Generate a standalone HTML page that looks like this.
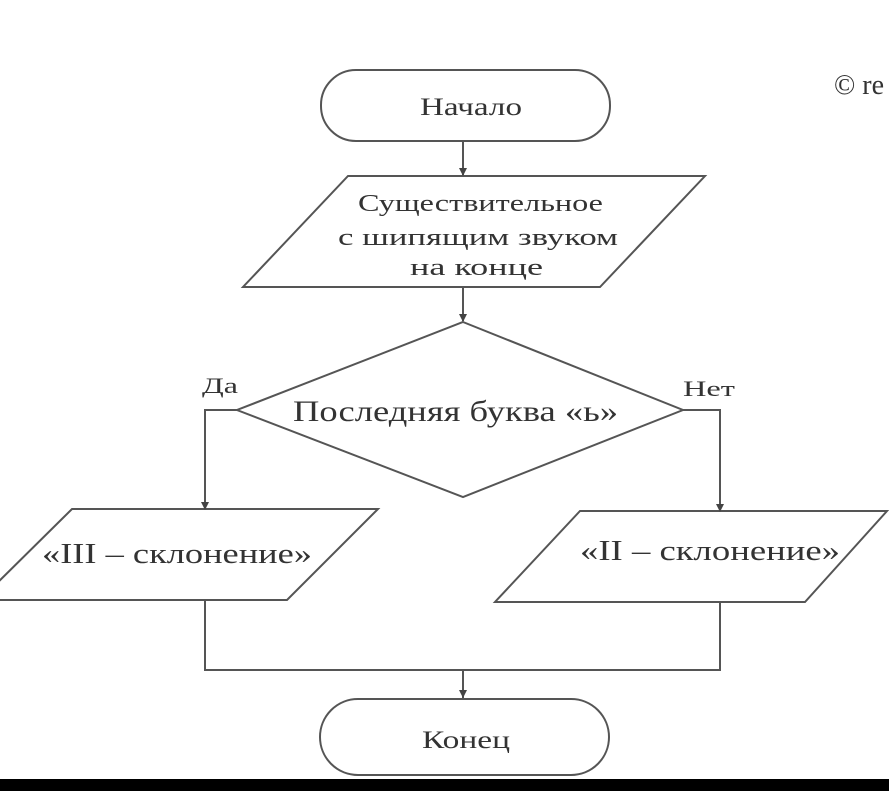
<!DOCTYPE html>
<html><head><meta charset="utf-8"><style>
html,body{margin:0;padding:0;background:#fff;}
svg{display:block;}
text{font-family:"Liberation Serif","DejaVu Serif",serif;fill:#333;}
</style></head><body>
<svg width="889" height="791" viewBox="0 0 889 791" xmlns="http://www.w3.org/2000/svg">
<g fill="none" stroke="#555" stroke-width="2">
<rect x="321" y="70" width="289" height="71" rx="35" ry="35"/>
<line x1="463" y1="141" x2="463" y2="175"/>
<polygon points="348,176 705,176 600,287 243,287"/>
<line x1="463" y1="287" x2="463" y2="321"/>
<polygon points="463,322 683,410 463,497 237,410"/>
<polyline points="237,410 205,410 205,510"/>
<polyline points="683,410 720,410 720,512"/>
<polygon points="72,509 378,509 287,600 -20,600"/>
<polygon points="580,511 887,511 805,602 495,602"/>
<polyline points="205,600 205,670 720,670 720,602"/>
<line x1="463" y1="670" x2="463" y2="698"/>
<rect x="320" y="699" width="289" height="76" rx="38" ry="38"/>
</g>
<g fill="#444">
<polygon points="459,168 467,168 463,176"/>
<polygon points="459,314 467,314 463,322"/>
<polygon points="201,502 209,502 205,510"/>
<polygon points="716,504 724,504 720,512"/>
<polygon points="459,690 467,690 463,698"/>
</g>
<rect x="0" y="779" width="889" height="12" fill="#000"/>
<text x="420" y="115" font-size="25" textLength="102" lengthAdjust="spacingAndGlyphs">Начало</text>
<text x="358" y="211" font-size="24" textLength="245" lengthAdjust="spacingAndGlyphs">Существительное</text>
<text x="338" y="245" font-size="24" textLength="280" lengthAdjust="spacingAndGlyphs">с шипящим звуком</text>
<text x="410" y="275" font-size="24" textLength="133" lengthAdjust="spacingAndGlyphs">на конце</text>
<text x="293" y="421" font-size="30" fill="#222" textLength="325" lengthAdjust="spacingAndGlyphs">Последняя буква «ь»</text>
<text x="202" y="393" font-size="22" textLength="36" lengthAdjust="spacingAndGlyphs">Да</text>
<text x="683" y="396" font-size="22" textLength="52" lengthAdjust="spacingAndGlyphs">Нет</text>
<text x="42" y="563" font-size="29" fill="#222" textLength="270" lengthAdjust="spacingAndGlyphs">«III – склонение»</text>
<text x="580" y="560" font-size="29" fill="#222" textLength="260" lengthAdjust="spacingAndGlyphs">«II – склонение»</text>
<text x="422" y="748" font-size="25" textLength="88" lengthAdjust="spacingAndGlyphs">Конец</text>
<text x="834" y="94" font-size="28" fill="#111">© re</text>
</svg>
</body></html>
